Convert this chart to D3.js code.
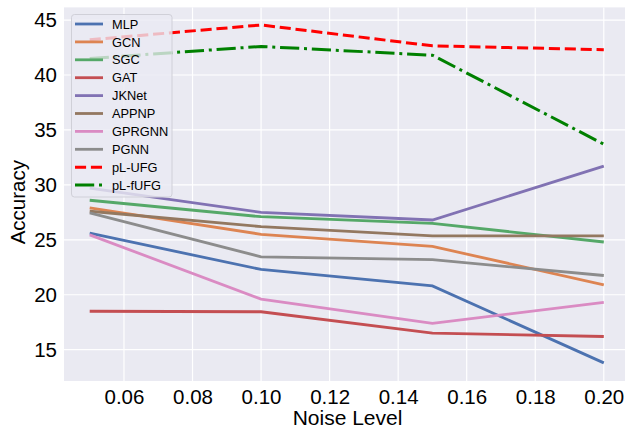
<!DOCTYPE html>
<html>
<head>
<meta charset="utf-8">
<script src="https://cdnjs.cloudflare.com/ajax/libs/d3/7.8.5/d3.min.js"></script>
<style>
  body { margin: 0; background: #fff; }
  text { font-family: "Liberation Sans", Arial, sans-serif; fill: #000; }
</style>
</head>
<body>
<div id="chart-area"></div>
<script>

// DATA

var noiseLevels = [0.05, 0.10, 0.15, 0.20];
var xTicks = [0.06, 0.08, 0.10, 0.12, 0.14, 0.16, 0.18, 0.20];
var yTicks = [15, 20, 25, 30, 35, 40, 45];

var methodNames = ["MLP", "GCN", "SGC", "GAT", "JKNet", "APPNP", "GPRGNN", "PGNN", "pL-UFG", "pL-fUFG"];

var mlp    = [25.6, 22.3, 20.8, 13.8];
var gcn    = [27.9, 25.5, 24.4, 20.9];
var sgc    = [28.6, 27.1, 26.5, 24.8];
var gat    = [18.5, 18.45, 16.5, 16.2];
var jknet  = [29.7, 27.5, 26.8, 31.7];
var appnp  = [27.6, 26.2, 25.35, 25.35];
var gprgnn = [25.45, 19.6, 17.4, 19.3];
var pgnn   = [27.45, 23.45, 23.2, 21.75];
var plUfg  = [43.2, 44.55, 42.65, 42.3];
var plFufg = [41.5, 42.6, 41.8, 33.7];

var seriesValues = [mlp, gcn, sgc, gat, jknet, appnp, gprgnn, pgnn, plUfg, plFufg];

// STYLES

var colors = ["#4c72b0", "#dd8452", "#55a868", "#c44e52", "#8172b3", "#937860", "#da8bc3", "#8c8c8c", "#ff0000", "#008000"];
var dashes = [null, null, null, null, null, null, null, null, "11.1,4.8", "19.2,4.8,3,4.8"];
var widths = [2.8, 2.8, 2.8, 2.8, 2.8, 2.8, 2.8, 2.8, 3, 3];

// CHART AREA

var W = 625, H = 428;
var margin = {top: 7.4, left: 64, bottom: 381};

var svg = d3.select("#chart-area").append("svg")
    .attr("width", W)
    .attr("height", H);

var x = d3.scaleLinear()
    .domain([0.0425, 0.2075])
    .range([margin.left, 629.5]);

var y = d3.scaleLinear()
    .domain([12.15, 46.15])
    .range([margin.bottom, margin.top]);

svg.append("rect")
    .attr("x", margin.left)
    .attr("y", margin.top)
    .attr("width", W - margin.left)
    .attr("height", margin.bottom - margin.top)
    .attr("fill", "#eaeaf2");

// GRID

svg.append("g").selectAll("line")
    .data(xTicks)
    .enter().append("line")
    .attr("x1", function(d) { return x(d); })
    .attr("x2", function(d) { return x(d); })
    .attr("y1", margin.top)
    .attr("y2", margin.bottom)
    .attr("stroke", "#fff")
    .attr("stroke-width", 1.2);

svg.append("g").selectAll("line")
    .data(yTicks)
    .enter().append("line")
    .attr("x1", margin.left)
    .attr("x2", W)
    .attr("y1", function(d) { return y(d); })
    .attr("y2", function(d) { return y(d); })
    .attr("stroke", "#fff")
    .attr("stroke-width", 1.2);

// AXES (labels only, seaborn darkgrid has no spines)

var xAxis = d3.axisBottom(x)
    .tickValues(xTicks)
    .tickFormat(d3.format(".2f"))
    .tickSize(0)
    .tickPadding(8);

var yAxis = d3.axisLeft(y)
    .tickValues(yTicks)
    .tickFormat(d3.format("d"))
    .tickSize(0)
    .tickPadding(7);

var xAxisGroup = svg.append("g")
    .attr("transform", "translate(0," + margin.bottom + ")")
    .call(xAxis);

var yAxisGroup = svg.append("g")
    .attr("transform", "translate(" + margin.left + ",0)")
    .call(yAxis);

[xAxisGroup, yAxisGroup].forEach(function(g) {
    g.select(".domain").remove();
    g.selectAll("text")
        .style("font-size", "20.5px")
        .attr("fill", "#000");
});

svg.append("text")
    .attr("x", (margin.left + 625) / 2 + 3)
    .attr("y", 425)
    .attr("text-anchor", "middle")
    .style("font-size", "21px")
    .text("Noise Level");

svg.append("text")
    .attr("transform", "translate(25," + ((margin.top + margin.bottom) / 2 + 8) + ") rotate(-90)")
    .attr("text-anchor", "middle")
    .style("font-size", "20.5px")
    .text("Accuracy");

// LINES

var line = d3.line()
    .x(function(d, i) { return x(noiseLevels[i]); })
    .y(function(d) { return y(d); });

svg.append("g").selectAll("path")
    .data(seriesValues)
    .enter().append("path")
    .attr("d", line)
    .attr("fill", "none")
    .attr("stroke", function(d, i) { return colors[i]; })
    .attr("stroke-width", function(d, i) { return widths[i]; })
    .attr("stroke-dasharray", function(d, i) { return dashes[i]; });

// LEGEND

var legend = svg.append("g");

legend.append("rect")
    .attr("x", 71.5)
    .attr("y", 14.5)
    .attr("width", 100.5)
    .attr("height", 182.5)
    .attr("rx", 3)
    .attr("fill", "#eaeaf2")
    .attr("fill-opacity", 0.8)
    .attr("stroke", "#d0d0d8")
    .attr("stroke-width", 1);

var rowH = 17.9;

var items = legend.selectAll(".item")
    .data(methodNames)
    .enter().append("g")
    .attr("transform", function(d, i) { return "translate(0," + (24 + i * rowH) + ")"; });

items.append("line")
    .attr("x1", 75)
    .attr("x2", 103)
    .attr("stroke", function(d, i) { return colors[i]; })
    .attr("stroke-width", function(d, i) { return widths[i]; })
    .attr("stroke-dasharray", function(d, i) { return dashes[i]; });

items.append("text")
    .attr("x", 112)
    .attr("dy", "0.36em")
    .style("font-size", "12.8px")
    .text(function(d) { return d; });

</script>
</body>
</html>
